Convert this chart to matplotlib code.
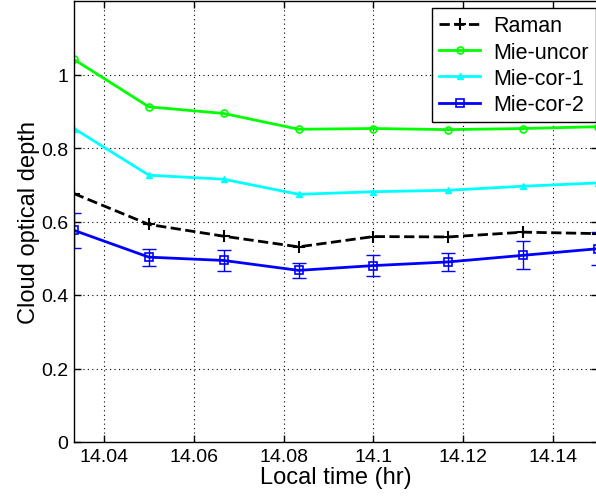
import numpy as np
import matplotlib
matplotlib.use("Agg")
import matplotlib.pyplot as plt

plt.rcParams["font.family"] = ["Liberation Sans", "DejaVu Sans"]

# local time of each profile (hr)
local_time = [14 + 2 / 60, 14 + 3 / 60, 14 + 4 / 60, 14 + 5 / 60,
              14 + 6 / 60, 14 + 7 / 60, 14 + 8 / 60, 14 + 9 / 60]

raman = [0.676, 0.592, 0.560, 0.531, 0.559, 0.558, 0.571, 0.567]
mie_uncor = [1.041, 0.912, 0.894, 0.851, 0.853, 0.850, 0.853, 0.858]
mie_cor_1 = [0.853, 0.726, 0.715, 0.674, 0.681, 0.685, 0.696, 0.705]
mie_cor_2 = [0.576, 0.503, 0.494, 0.467, 0.480, 0.490, 0.508, 0.526]
mie_cor_2_err = [0.048, 0.023, 0.028, 0.020, 0.029, 0.025, 0.038, 0.045]

x_ticks = [14.04, 14.06, 14.08, 14.1, 14.12, 14.14]
x_tick_labels = ["14.04", "14.06", "14.08", "14.1", "14.12", "14.14"]
y_ticks = [0, 0.2, 0.4, 0.6, 0.8, 1.0]
y_tick_labels = ["0", "0.2", "0.4", "0.6", "0.8", "1"]

fig = plt.figure(figsize=(5.96, 5.02), dpi=100)
ax = fig.add_axes([74 / 596, 1 - 443 / 502, 524 / 596, 441 / 502])

blue = (0, 0, 1)
ax.errorbar(local_time, mie_cor_2, yerr=mie_cor_2_err, color=blue,
            linestyle="none", elinewidth=1, capsize=5, capthick=1)

ax.plot(local_time, raman, color="k", linestyle="--", linewidth=2,
        marker="+", markersize=8, markeredgewidth=1.5, label="Raman")
ax.plot(local_time, mie_uncor, color=(0, 1, 0), linestyle="-", linewidth=2,
        marker="o", markersize=5, markerfacecolor="none", markeredgewidth=1.2,
        label="Mie-uncor")
ax.plot(local_time, mie_cor_1, color=(0, 1, 1), linestyle="-", linewidth=2,
        marker="^", markersize=5, label="Mie-cor-1")
ax.plot(local_time, mie_cor_2, color=blue, linestyle="-", linewidth=2,
        marker="s", markersize=6, markerfacecolor="none",
        markeredgewidth=1.2, label="Mie-cor-2")

ax.set_xlim(14 + 2 / 60, 14.15)
ax.set_ylim(0, 1.2)
ax.set_xticks(x_ticks)
ax.set_xticklabels(x_tick_labels)
ax.set_yticks(y_ticks)
ax.set_yticklabels(y_tick_labels)
ax.tick_params(direction="in", top=True, right=True, labelsize=14,
               length=5, width=1, pad=4)
ax.grid(True, color="k", linestyle=(0, (1, 3)), linewidth=0.8)

for spine in ax.spines.values():
    spine.set_linewidth(1)

ax.set_xlabel("Local time (hr)", fontsize=17, labelpad=1)
ax.set_ylabel("Cloud optical depth", fontsize=17, labelpad=1)

leg = ax.legend(loc="upper right", bbox_to_anchor=(0.996, 0.984),
                fontsize=15.5, fancybox=False, framealpha=1,
                edgecolor="k", handlelength=1.9, handletextpad=0.6,
                borderpad=0.33, labelspacing=0.25, borderaxespad=0)
leg.get_frame().set_linewidth(1)

fig.savefig("out.png", dpi=100)
